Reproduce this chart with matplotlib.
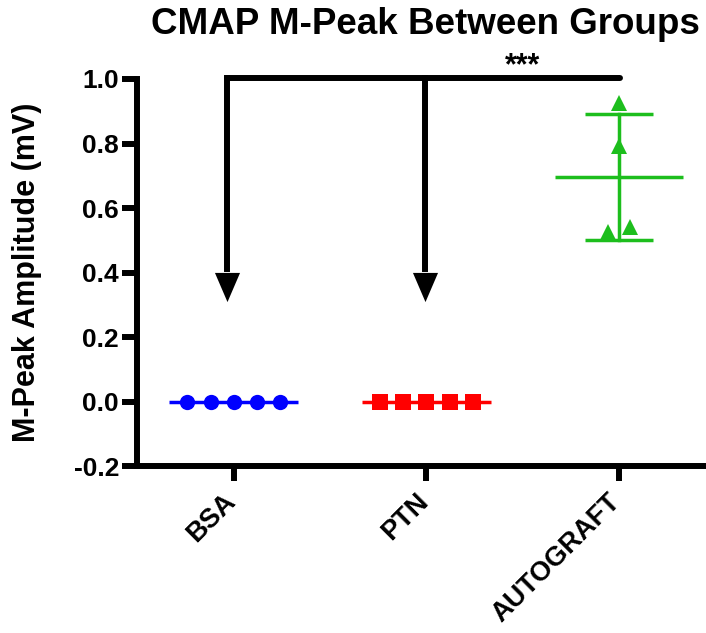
import matplotlib
matplotlib.use("Agg")
import matplotlib.pyplot as plt
import matplotlib.transforms as mtransforms
import numpy as np

plt.rcParams['font.family'] = ['Liberation Sans', 'DejaVu Sans']
plt.rcParams['font.weight'] = 'bold'

# Group names and measured M-peak amplitudes (mV)
groups = ["BSA", "PTN", "AUTOGRAFT"]
bsa_values = [0.0, 0.0, 0.0, 0.0, 0.0]
ptn_values = [0.0, 0.0, 0.0, 0.0, 0.0]
autograft_values = [0.925, 0.792, 0.526, 0.541]
y_ticks = [-0.2, 0.0, 0.2, 0.4, 0.6, 0.8, 1.0]
significance = "***"

# horizontal scatter offsets of individual points inside each column
bsa_offsets = [-0.24, -0.12, 0.0, 0.12, 0.24]
ptn_offsets = [-0.24, -0.12, 0.0, 0.12, 0.24]
autograft_offsets = [0.0, 0.0, -0.058, 0.057]

BLUE = "#0000FF"
RED = "#FF0000"
GREEN = "#1DBE1D"

fig = plt.figure(figsize=(7.06, 6.33), dpi=100)
ax = fig.add_axes([0.194, 0.2633, 0.806, 0.6119])

series = [
    (bsa_values, bsa_offsets, BLUE, "o"),
    (ptn_values, ptn_offsets, RED, "s"),
    (autograft_values, autograft_offsets, GREEN, "^"),
]

for i, (vals, offs, color, marker) in enumerate(series):
    vals = np.asarray(vals, dtype=float)
    mean = vals.mean()
    sd = vals.std(ddof=1)
    # mean line
    ax.plot([i - 0.334, i + 0.334], [mean, mean], color=color, lw=2.5,
            solid_capstyle="butt", zorder=2)
    if sd > 0:
        ax.plot([i, i], [mean - sd, mean + sd], color=color, lw=2.5, zorder=2)
        for y in (mean - sd, mean + sd):
            ax.plot([i - 0.177, i + 0.177], [y, y], color=color, lw=2.5,
                    solid_capstyle="butt", zorder=2)
    ax.plot(i + np.asarray(offs), vals, linestyle="none", marker=marker,
            ms=11, color=color, markeredgewidth=0, zorder=3)

ax.set_xlim(-0.502, 2.451)
ax.set_ylim(-0.2, 1.0)
ax.set_yticks(y_ticks)
ax.set_yticklabels([f"{v:.1f}" for v in y_ticks])
ax.set_xticks(range(len(groups)))
ax.set_xticklabels(groups, rotation=45, ha="right")

for side in ("top", "right"):
    ax.spines[side].set_visible(False)
for side in ("left", "bottom"):
    ax.spines[side].set_linewidth(4.3)
    ax.spines[side].set_capstyle("projecting")

ax.tick_params(axis="both", which="major", length=11, width=4.3,
               labelsize=19, pad=2, color="black")
ax.tick_params(axis="x", pad=5, labelsize=19.5)
shift = mtransforms.ScaledTranslation(7 / 100, 0, fig.dpi_scale_trans)
for lbl in ax.get_xticklabels():
    lbl.set_transform(lbl.get_transform() + shift)
for lbl in ax.get_xticklabels() + ax.get_yticklabels():
    lbl.set_fontweight("bold")

ax.set_ylabel("M-Peak Amplitude (mV)", fontsize=22, fontweight="bold",
              va="center")
ax.yaxis.set_label_coords(-0.193, 0.5)

fig.text(0.602, 1 - 24 / 633, "CMAP M-Peak Between Groups", fontsize=26.5,
         fontweight="bold", ha="center", va="center")

# significance bracket: AUTOGRAFT compared against BSA and PTN
bracket_y = 1.004
head_base = 0.40
arrow_tip = 0.31
left_x, mid_x, right_x = -0.035, 0.993, 2.005
ax.plot([left_x, right_x], [bracket_y, bracket_y], color="black", lw=4.3,
        solid_capstyle="round", clip_on=False, zorder=4)
head = [(-0.43, 0.5), (0.43, 0.5), (0.0, -0.5), (-0.43, 0.5)]
for x in (left_x, mid_x):
    ax.plot([x, x], [bracket_y, head_base + 0.01], color="black", lw=4.3,
            solid_capstyle="projecting", clip_on=False, zorder=4)
    ax.plot([x], [(head_base + arrow_tip) / 2], marker=head, ms=21,
            color="black", markeredgewidth=0, linestyle="none",
            clip_on=False, zorder=4)
ax.text((mid_x + right_x) / 2, 1.038, significance, ha="center", va="center",
        fontsize=22, fontweight="bold")

fig.savefig("out.png", dpi=100)
